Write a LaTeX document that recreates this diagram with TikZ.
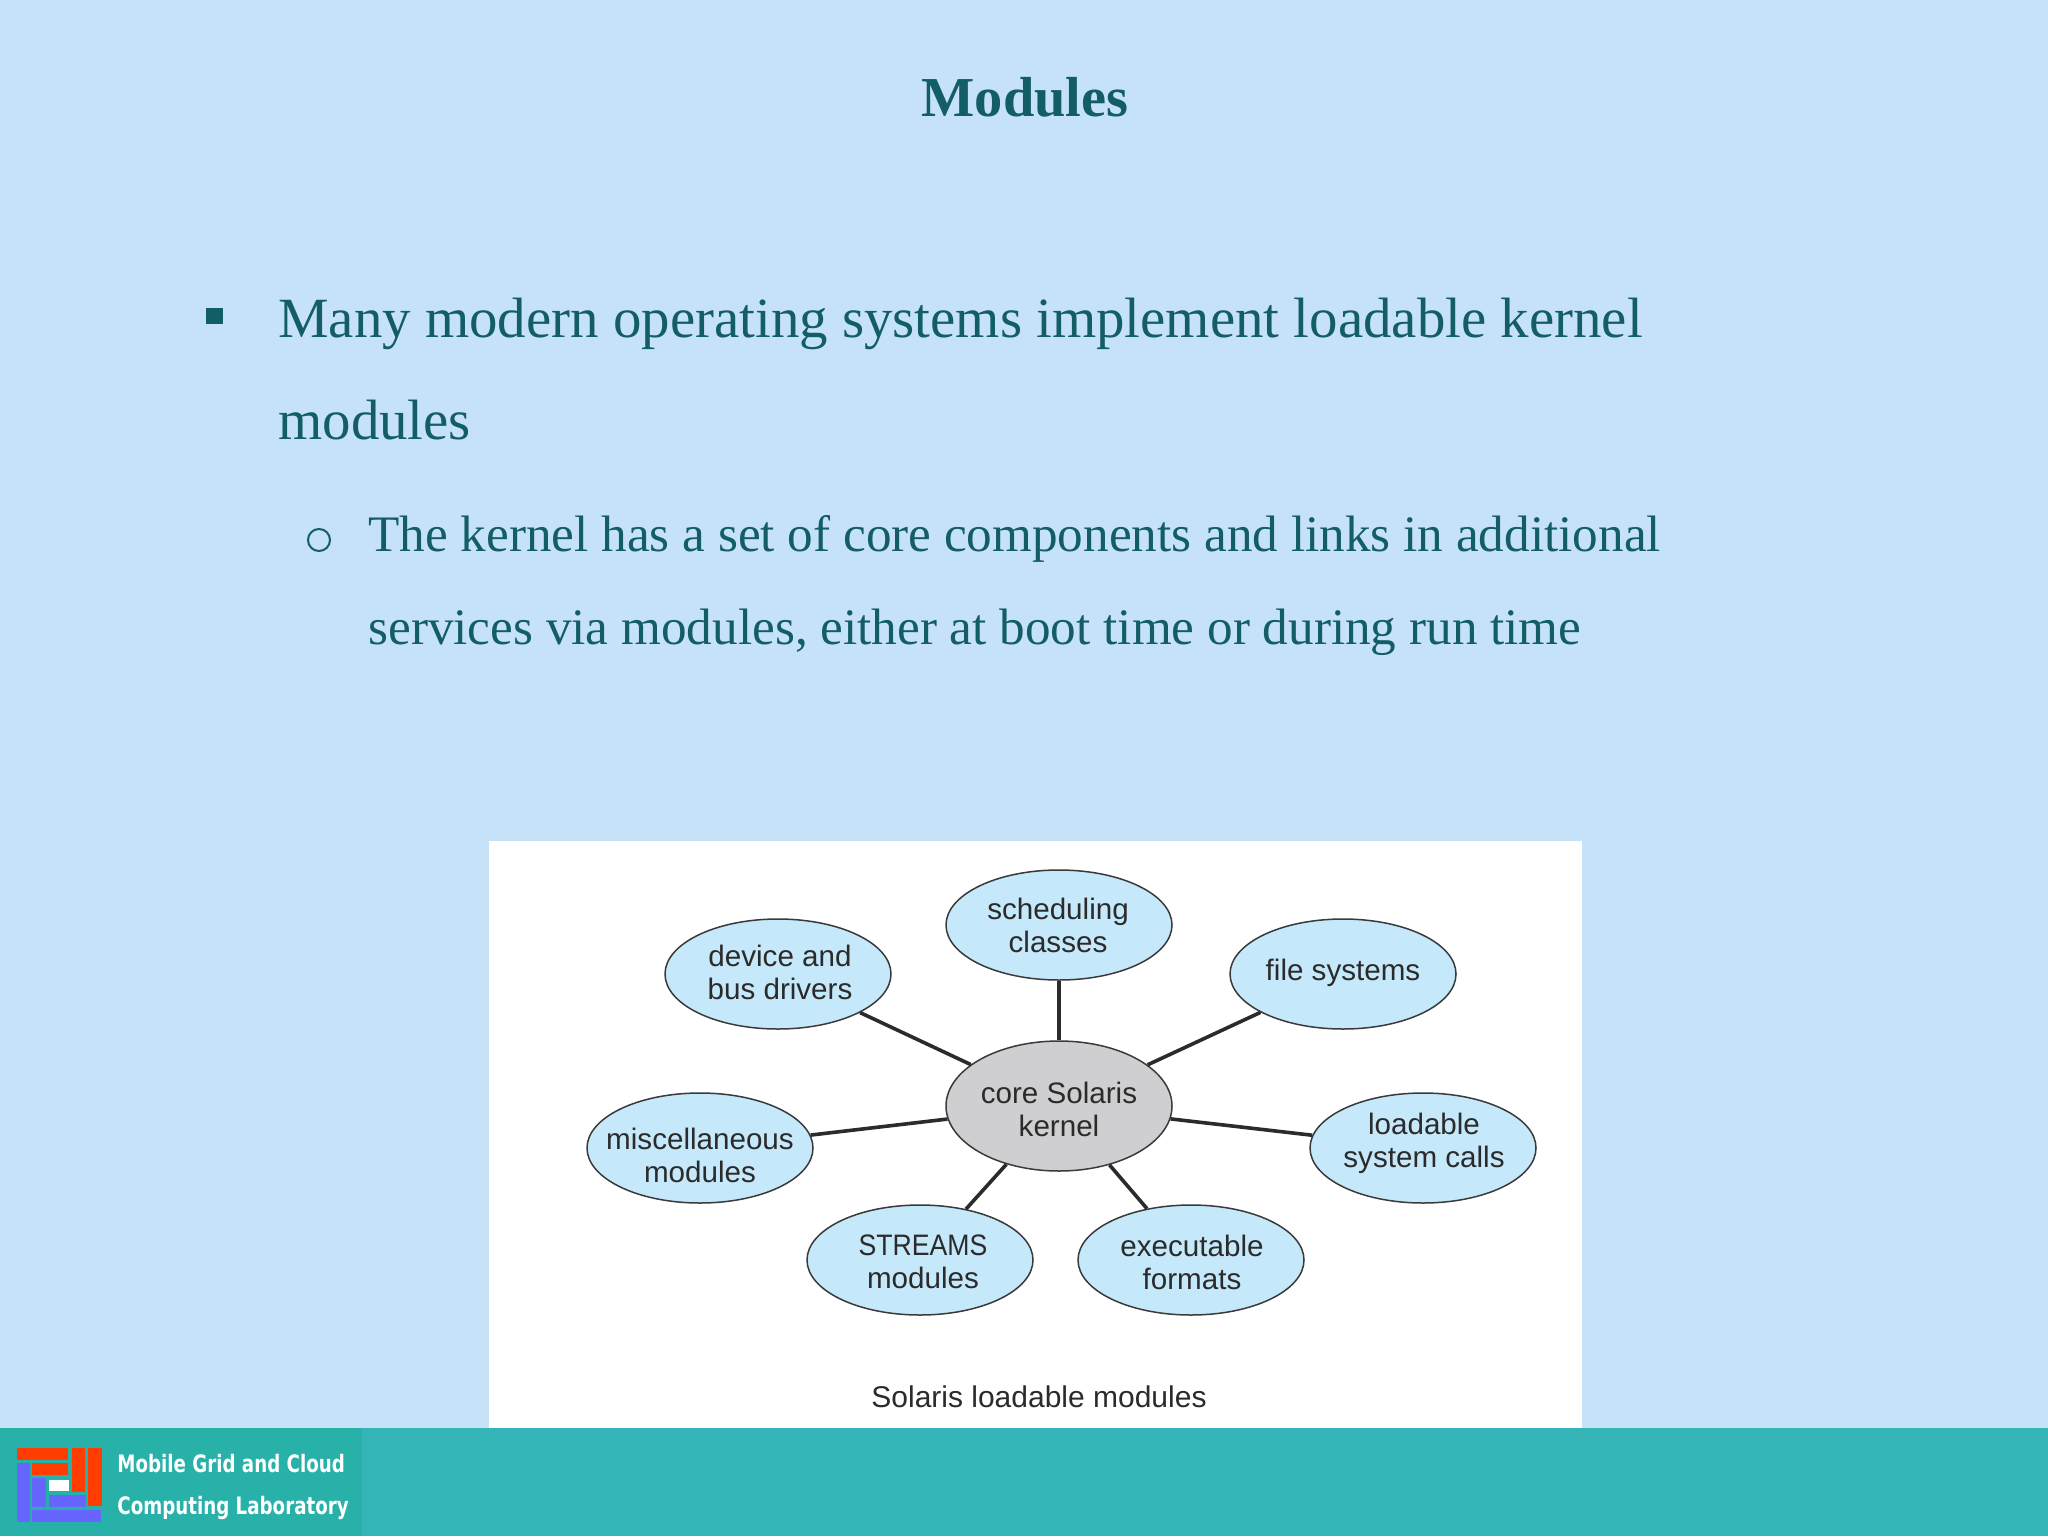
\documentclass[tikz,border=0pt]{standalone}
\usepackage{fontspec}
\setmainfont{Liberation Serif}
\newfontfamily\figfont{Liberation Sans}
\newfontfamily\labfont{DejaVu Sans}
\usetikzlibrary{shapes.geometric}
\definecolor{slidebg}{HTML}{C6E2F9}
\definecolor{slidetext}{HTML}{135E66}
\definecolor{footL}{HTML}{28B1A9}
\definecolor{footR}{HTML}{36B5B9}
\definecolor{bubble}{HTML}{C5E8FA}
\definecolor{coregray}{HTML}{CFCFD2}
\definecolor{inkdark}{HTML}{2B2B2B}
\definecolor{bubbleline}{HTML}{3A3A3A}
\definecolor{logored}{HTML}{FF3D00}
\definecolor{logoblue}{HTML}{6666FF}
\tikzset{
  bodyline/.style={anchor=base west,inner sep=0pt,text=slidetext,font=\fontsize{28.43}{28.43}\selectfont},
  subline/.style={anchor=base west,inner sep=0pt,text=slidetext,font=\fontsize{25.6}{25.6}\selectfont},
  bubblenode/.style={ellipse,draw=bubbleline,line width=0.75pt,fill=bubble,minimum width=113pt,minimum height=55pt,inner sep=0pt},
  bubbletext/.style={inner sep=0pt,text=inkdark,align=center,font=\figfont\fontsize{14.8}{16.5}\selectfont},
  spoke/.style={draw=inkdark,line width=1.8pt},
  redblock/.style={fill=logored,draw=none},
  blueblock/.style={fill=logoblue,draw=none},
  lablabel/.style={anchor=base west,inner sep=0pt,text=white,font=\labfont\bfseries\fontsize{12}{12}\selectfont}
}
\begin{document}
\begin{tikzpicture}[x=0.5pt,y=-0.5pt]
\useasboundingbox (0,0) rectangle (2048,1536);
\fill[slidebg] (0,0) rectangle (2048,1536);
\node[anchor=base,inner sep=0pt,text=slidetext,font=\bfseries\fontsize{28.2}{28.2}\selectfont] (title) at (1025,117) {Modules};
\fill[slidetext] (206,308) rectangle (223,324);
\node[bodyline] (l1) at (278,337) {Many modern operating systems implement loadable kernel};
\node[bodyline] (l2) at (278,439) {modules};
\draw[slidetext,line width=1pt] (319,540) circle (11);
\node[subline] (l3) at (368,551) {The kernel has a set of core components and links in additional};
\node[subline] (l4) at (368,644) {services via modules, either at boot time or during run time};
% figure
\fill[white] (489,841) rectangle (1582,1428);
\node[bubblenode,fill=coregray,minimum height=65pt] (core) at (1059,1106) {};
\node[bubblenode] (device) at (778,974) {};
\node[bubblenode] (sched) at (1059,925) {};
\node[bubblenode] (file) at (1343,974) {};
\node[bubblenode] (load) at (1423,1148) {};
\node[bubblenode] (misc) at (700,1148) {};
\node[bubblenode] (streams) at (920,1260) {};
\node[bubblenode] (exec) at (1191,1260) {};
\foreach \n in {device,sched,file,load,misc,streams,exec}
  \draw[spoke] (core) -- (\n);
\node[bubbletext] (coreT) at (1059,1109) {core Solaris\\kernel};
\node[bubbletext] (deviceT) at (780,972) {device and\\bus drivers};
\node[bubbletext] (schedT) at (1058,925) {scheduling\\classes};
\node[bubbletext] (fileT) at (1343,973) {file systems};
\node[bubbletext] (loadT) at (1424,1143) {loadable\\system calls};
\node[bubbletext] (miscT) at (700,1155) {miscellaneous\\modules};
\node[bubbletext] (streamsT) at (923,1262) {\scalebox{0.9}[1]{STREAMS}\\modules};
\node[bubbletext] (execT) at (1192,1262) {executable\\formats};
\node[anchor=base,inner sep=0pt,text=inkdark,font=\figfont\fontsize{15}{15}\selectfont] (cap) at (1039,1407) {Solaris loadable modules};
% footer
\fill[footR] (0,1428) rectangle (2048,1536);
\fill[footL] (0,1428) rectangle (362,1536);
\fill[redblock] (17,1448) rectangle (68,1460);
\fill[redblock] (32,1463) rectangle (68,1475);
\fill[redblock] (72,1448) rectangle (85,1492);
\fill[redblock] (88,1448) rectangle (102,1506);
\fill[blueblock] (17,1463) rectangle (30,1522);
\fill[blueblock] (32,1478) rectangle (46,1507);
\fill[blueblock] (49,1495) rectangle (86,1507);
\fill[blueblock] (32,1510) rectangle (101,1522);
\fill[white] (49,1480) rectangle (69,1491);
\node[lablabel] (lab1) at (117,1472) {\scalebox{0.76}[1]{Mobile Grid and Cloud}};
\node[lablabel] (lab2) at (117,1514) {\scalebox{0.76}[1]{Computing Laboratory}};
\end{tikzpicture}
\end{document}
